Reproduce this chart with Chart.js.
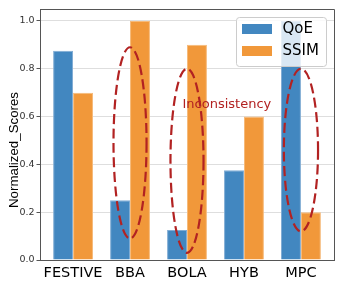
<!DOCTYPE html>
<html>
<head>
<meta charset="utf-8">
<script src="https://cdn.jsdelivr.net/npm/chart.js@4.4.1/dist/chart.umd.min.js"></script>
<style>
  html, body { margin: 0; padding: 0; background: #fff; }
  #wrap { width: 345px; height: 292px; }
</style>
</head>
<body>
<div id="wrap"><canvas id="chart" width="345" height="292"></canvas></div>
<script>
// data
const categories = ['FESTIVE', 'BBA', 'BOLA', 'HYB', 'MPC'];
const qoeScores = [0.875, 0.25, 0.125, 0.375, 1.0];
const ssimScores = [0.7, 1.0, 0.9, 0.6, 0.2];
const yTicks = [0.0, 0.2, 0.4, 0.6, 0.8, 1.0];

// dashed ellipses (data units: x = category index, y = score)
const ellipseX = [1, 2, 4];
const ellipseY = [0.49, 0.415, 0.46];
const ellipseW = [0.58, 0.58, 0.6];
const ellipseH = [0.80, 0.77, 0.68];
const noteText = 'Inconsistency';
const noteX = 2.7;
const noteY = 0.65;
const yTitle = 'Normalized_Scores';

const BLUE = 'rgb(66,135,192)';
const ORANGE = 'rgb(241,152,58)';
const BLUE_EDGE = 'rgb(128,172,212)';
const ORANGE_EDGE = 'rgb(246,186,122)';
const RED = 'rgb(178,34,34)';

// ellipses, annotation, top/right spines, y title and the legend box
const overlayPlugin = {
    id: 'overlay',
    afterDatasetsDraw(chart) {
        const ctx = chart.ctx;
        const xs = chart.scales.x, ys = chart.scales.y;
        const area = chart.chartArea;

        ctx.save();
        ctx.strokeStyle = RED;
        ctx.lineWidth = 2.2;
        ctx.setLineDash([10, 4.5]);
        ellipseX.forEach((x, i) => {
            const cx = xs.getPixelForValue(x);
            const cy = ys.getPixelForValue(ellipseY[i]);
            const rx = Math.abs(xs.getPixelForValue(x + ellipseW[i] / 2) - cx);
            const ry = Math.abs(ys.getPixelForValue(ellipseY[i] + ellipseH[i] / 2) - cy);
            ctx.beginPath();
            ctx.ellipse(cx, cy, rx, ry, 0, 0, Math.PI * 2);
            ctx.stroke();
        });
        ctx.restore();

        ctx.save();
        ctx.fillStyle = RED;
        ctx.font = '13px "DejaVu Sans"';
        ctx.textAlign = 'center';
        ctx.textBaseline = 'middle';
        ctx.fillText(noteText, xs.getPixelForValue(noteX), ys.getPixelForValue(noteY));
        ctx.restore();

        // spines on top and right
        ctx.save();
        ctx.strokeStyle = '#555';
        ctx.lineWidth = 1;
        ctx.beginPath();
        ctx.moveTo(area.left, area.top + 0.5);
        ctx.lineTo(area.right + 0.5, area.top + 0.5);
        ctx.lineTo(area.right + 0.5, area.bottom);
        ctx.stroke();
        ctx.restore();

        // y axis title, sits a bit below the middle like the reference
        ctx.save();
        ctx.translate(14, 150);
        ctx.rotate(-Math.PI / 2);
        ctx.fillStyle = '#000';
        ctx.font = '13.3px "Liberation Sans"';
        ctx.textAlign = 'center';
        ctx.textBaseline = 'middle';
        ctx.fillText(yTitle, 0, 0);
        ctx.restore();

        // legend in the upper right
        const bx = 236.5, by = 17.5, bw = 90, bh = 49;
        ctx.save();
        ctx.fillStyle = 'rgba(255,255,255,0.8)';
        ctx.strokeStyle = 'rgba(204,204,204,1)';
        ctx.lineWidth = 1;
        ctx.beginPath();
        ctx.roundRect(bx, by, bw, bh, 3);
        ctx.fill();
        ctx.stroke();
        ctx.font = '15px "DejaVu Sans"';
        ctx.textBaseline = 'middle';
        chart.data.datasets.forEach((ds, i) => {
            const ry = by + 6.5 + i * 22;
            ctx.fillStyle = ds.backgroundColor;
            ctx.fillRect(bx + 5.5, ry, 30, 10);
            ctx.fillStyle = '#000';
            ctx.fillText(ds.label, bx + 46, ry + 5.5);
        });
        ctx.restore();
    }
};

new Chart(document.getElementById('chart'), {
    type: 'bar',
    data: {
        datasets: [
            {
                label: 'QoE',
                data: qoeScores.map((v, i) => ({ x: i, y: v })),
                backgroundColor: BLUE,
                borderColor: BLUE_EDGE,
                borderWidth: 1,
                borderSkipped: 'bottom'
            },
            {
                label: 'SSIM',
                data: ssimScores.map((v, i) => ({ x: i, y: v })),
                backgroundColor: ORANGE,
                borderColor: ORANGE_EDGE,
                borderWidth: 1,
                borderSkipped: 'bottom'
            }
        ]
    },
    options: {
        responsive: false,
        animation: false,
        layout: { padding: { left: 0, right: 11, top: 9, bottom: 0 } },
        plugins: {
            legend: { display: false },
            tooltip: { enabled: false }
        },
        datasets: {
            bar: { categoryPercentage: 0.7, barPercentage: 1.0 }
        },
        scales: {
            x: {
                type: 'linear',
                offset: false,
                min: -0.58,
                max: 4.58,
                afterBuildTicks: (scale) => {
                    scale.ticks = categories.map((c, i) => ({ value: i }));
                },
                afterFit: (scale) => { scale.height = 32; },
                grid: { display: false, drawTicks: false },
                border: { display: true, color: '#555', width: 1 },
                ticks: {
                    color: '#000',
                    font: { family: 'DejaVu Sans', size: 14.5 },
                    padding: 5,
                    maxRotation: 0,
                    autoSkip: false,
                    callback: (v) => categories[v]
                }
            },
            y: {
                min: 0,
                max: 1.05,
                afterBuildTicks: (scale) => {
                    scale.ticks = yTicks.map(v => ({ value: v }));
                },
                afterFit: (scale) => { scale.width = 40; },
                border: { display: true, color: '#555', width: 1 },
                grid: {
                    color: 'rgba(0,0,0,0.13)',
                    borderDash: [2, 2],
                    tickColor: '#555',
                    tickBorderDash: [],
                    tickLength: 3.5
                },
                ticks: {
                    color: '#333',
                    font: { family: 'DejaVu Sans', size: 9.5 },
                    padding: 2,
                    callback: (v) => v.toFixed(1)
                }
            }
        }
    },
    plugins: [overlayPlugin]
});
</script>
</body>
</html>
